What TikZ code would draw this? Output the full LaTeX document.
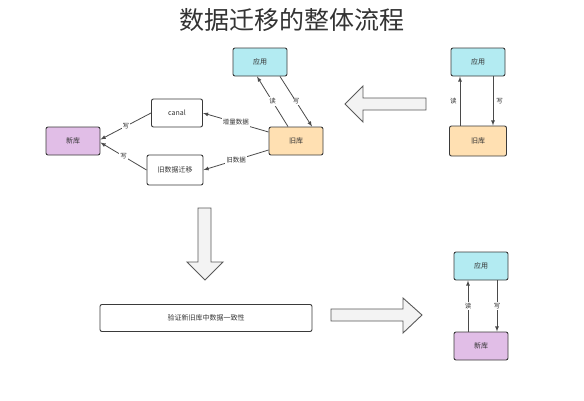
\documentclass[tikz,border=0pt]{standalone}
\usepackage{fontspec}
\setmainfont{Noto Sans CJK SC}
\usepackage{tikz}
\usetikzlibrary{arrows}
\usetikzlibrary{positioning}

\definecolor{appcol}{HTML}{B3EBF2}
\definecolor{oldcol}{HTML}{FFE0B2}
\definecolor{newcol}{HTML}{E1BEE7}
\definecolor{edgecol}{HTML}{3A3A3A}
\definecolor{linecol}{HTML}{4A4A4A}
\definecolor{bigcol}{HTML}{F3F3F3}

\begin{document}
\begin{tikzpicture}[x=1pt,y=-1pt,
		box/.style={draw=edgecol, line width=0.9pt, rounded corners=2pt, minimum width=54pt, minimum height=28pt, inner sep=1pt, font=\fontsize{7}{8}\selectfont, text=black!80},
		appbox/.style={box, fill=appcol},
		oldbox/.style={box, fill=oldcol},
		newbox/.style={box, fill=newcol},
		plainbox/.style={box, fill=white},
		conn/.style={->, >=latex, draw=linecol, line width=0.8pt},
		lbl/.style={midway, fill=white, inner sep=1pt, font=\fontsize{6.5}{7}\selectfont, text=black!80},
		bigarrow/.style={fill=bigcol, draw=black!65, line width=0.9pt, line join=miter}]
		
		\useasboundingbox (0,0) rectangle (584,400);
		
		% title
		\node (title) at (292,20) [font=\fontsize{25}{28}\selectfont, text=black!80] {数据迁移的整体流程};
		
		% old system
		\node (app2) at (478,62) [appbox] {应用};
		\node (olddb2) at (478,141) [oldbox, minimum width=57pt, minimum height=30pt] {旧库};
		\draw[conn] ([xshift=-18pt]olddb2.north) -- ([xshift=-18pt]app2.south) node[midway, left, inner sep=3pt, font=\fontsize{6.5}{7}\selectfont, text=black!80] {读};
		\draw[conn] ([xshift=15pt]app2.south) -- ([xshift=15pt]olddb2.north) node[midway, right, inner sep=3pt, font=\fontsize{6.5}{7}\selectfont, text=black!80] {写};
		
		\draw[bigarrow] (345,104) -- (363,86) -- (363,98) -- (426,98) -- (426,110) -- (363,110) -- (363,122) -- cycle;
		
		% migration
		\node (app1) at (260,62) [appbox] {应用};
		\node (olddb1) at (296,141) [oldbox] {旧库};
		\node (canal) at (177,113) [plainbox, minimum width=51pt] {canal};
		\node (migrate) at (175,170) [plainbox, minimum width=56pt, minimum height=30pt] {旧数据迁移};
		\node (newdb1) at (73,141) [newbox] {新库};
		
		\draw[conn] ([xshift=-8pt]olddb1.north) -- ([xshift=-3pt]app1.south) node[lbl] {读};
		\draw[conn] ([xshift=20pt]app1.south) -- ([xshift=16pt]olddb1.north) node[lbl] {写};
		\draw[conn] ([yshift=9pt]olddb1.west) -- (canal.east) node[lbl] {增量数据};
		\draw[conn] ([yshift=-9pt]olddb1.west) -- (migrate.east) node[lbl] {旧数据};
		\draw[conn] (canal.west) -- ([yshift=1.5pt]newdb1.east) node[lbl] {写};
		\draw[conn] (migrate.west) -- ([yshift=-1.5pt]newdb1.east) node[lbl] {写};
		
		\draw[bigarrow] (198,208) -- (211,208) -- (211,262) -- (223,262) -- (205,280) -- (187,262) -- (198,262) -- cycle;
		
		% verify and switch
		\node (verify) at (206,318) [plainbox, minimum width=212pt, minimum height=27pt] {验证新旧库中数据一致性};
		
		\draw[bigarrow] (331,309) -- (403,309) -- (403,298) -- (422,315) -- (403,333) -- (403,321) -- (331,321) -- cycle;
		
		\node (app3) at (481,266) [appbox] {应用};
		\node (newdb3) at (481,346) [newbox] {新库};
		\draw[conn] ([xshift=-13pt]newdb3.north) -- ([xshift=-13pt]app3.south) node[lbl] {读};
		\draw[conn] ([xshift=16pt]app3.south) -- ([xshift=16pt]newdb3.north) node[lbl] {写};
		
	\end{tikzpicture}
\end{document}
